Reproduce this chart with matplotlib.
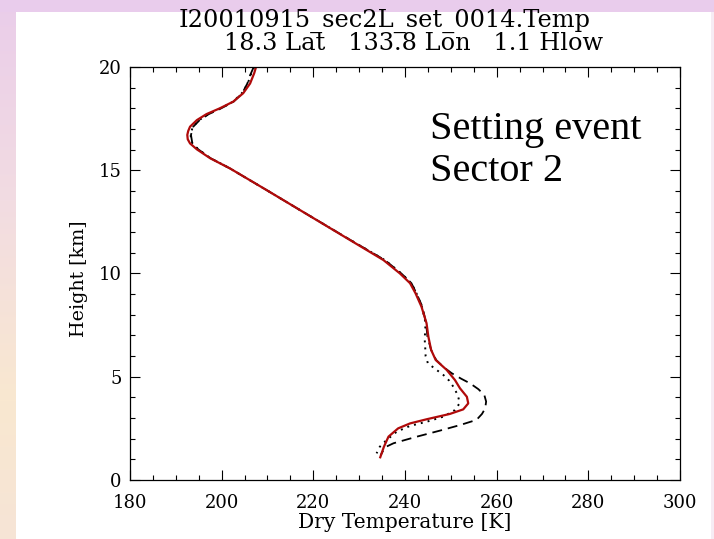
import numpy as np
import matplotlib
matplotlib.use("Agg")
import matplotlib.pyplot as plt

# Retrieved dry temperature profile (solid red)
ret_h = [20.0, 19.7, 19.2, 18.73, 18.32, 18.0, 17.72, 17.43, 17.11, 16.9, 16.71, 16.5,
         16.3, 16.01, 15.58, 15.09, 14.04, 13.07, 11.62, 10.65, 10.0, 9.53, 9.04, 8.39,
         7.59, 6.94, 6.3, 5.81, 5.33, 4.84, 4.44, 4.03, 3.71, 3.42, 3.2, 2.94, 2.74,
         2.5, 2.1, 1.61, 1.1]
ret_t = [207.5, 207.1, 206.2, 204.7, 202.5, 199.6, 196.7, 194.6, 193.1, 192.7, 192.5, 192.6,
         193.1, 194.6, 197.5, 201.8, 209.8, 217.1, 228.0, 235.3, 238.9, 241.1, 242.3, 243.6,
         244.7, 245.1, 245.7, 246.7, 249.1, 250.9, 252.0, 253.5, 253.8, 252.7, 249.8, 244.7, 241.1,
         238.5, 236.4, 235.4, 234.6]

# Reference profile 1 (dashed black)
ref1_h = [20.0, 19.6, 19.2, 18.73, 18.32, 18.0, 17.72, 17.43, 17.11, 16.71, 16.3, 16.01,
          15.58, 15.09, 14.04, 13.07, 11.62, 10.65, 10.0, 9.53, 9.04, 8.39, 7.59, 6.94,
          6.3, 5.81, 5.45, 5.17, 4.9, 4.68, 4.4, 4.12, 3.8, 3.47, 3.2, 2.91, 2.66,
          2.39, 2.1, 1.78, 1.58, 1.2]
ref1_t = [207.0, 206.2, 205.6, 204.5, 202.6, 199.9, 197.2, 195.2, 193.8, 193.3, 193.6, 194.9,
          197.6, 201.8, 209.8, 217.1, 228.1, 235.6, 239.2, 241.4, 242.5, 243.8, 244.6, 244.9,
          245.7, 246.8, 248.5, 250.2, 252.3, 254.2, 256.0, 257.3, 257.7, 257.5, 256.8, 255.6, 252.0,
          247.6, 242.6, 237.5, 235.6, 234.7]

# Reference profile 2 (dotted black)
ref2_h = [20.0, 19.6, 19.2, 18.73, 18.32, 18.0, 17.72, 17.43, 17.11, 16.71, 16.3, 16.01,
          15.58, 15.09, 14.04, 13.07, 11.62, 10.65, 10.0, 9.53, 9.04, 8.39, 7.59, 7.26,
          6.8, 6.46, 6.0, 5.65, 5.33, 5.08, 4.82, 4.5, 4.2, 3.95, 3.71, 3.39, 3.07,
          2.82, 2.62, 2.34, 1.94, 1.61, 1.29]
ref2_t = [207.1, 206.3, 205.7, 204.4, 202.5, 199.8, 197.1, 195.1, 193.7, 193.2, 193.6, 194.9,
          197.6, 201.8, 209.8, 217.1, 228.1, 235.6, 239.2, 241.4, 242.5, 243.7, 244.5, 244.4,
          244.3, 244.4, 244.5, 245.0, 246.9, 248.4, 249.6, 250.6, 251.3, 251.7, 251.9, 250.9, 248.4,
          244.7, 241.1, 238.2, 236.0, 234.5, 233.8]

x_ticks = [180, 200, 220, 240, 260, 280, 300]
y_ticks = [0, 5, 10, 15, 20]

title_line1 = "I20010915_sec2L_set_0014.Temp"
title_line2 = "18.3 Lat   133.8 Lon   1.1 Hlow"
note_line1 = "Setting event"
note_line2 = "Sector 2"

W, H = 714, 539
fig = plt.figure(figsize=(W / 100, H / 100), dpi=100)

# Slide-style frame: lavender top band, pink-to-peach left band
bg = np.ones((H, W, 3))
lav = np.array([233, 204, 236]) / 255
top_c = np.array([234, 205, 234]) / 255
mid_c = np.array([242, 220, 226]) / 255
low_c = np.array([249, 232, 208]) / 255
bot_c = np.array([246, 228, 214]) / 255
rows = np.arange(H)
stops = [0, 200, 400, H - 1]
cols = [top_c, mid_c, low_c, bot_c]
grad = np.stack([np.interp(rows, stops, [c[i] for c in cols]) for i in range(3)], axis=1)
bg[:, :16, :] = grad[:, None, :]
bg[:12, :, :] = lav
bg[12:, 711:, :] = np.array([246, 236, 244]) / 255
fig.figimage(bg, xo=0, yo=0, origin="upper", zorder=-10)

ax = fig.add_axes([130 / W, 1 - 480 / H, 550 / W, 413 / H])
ax.set_zorder(5)
ax.set_facecolor("white")

ax.plot(ref1_t, ref1_h, color="black", lw=1.3, linestyle=(0, (5.5, 3.3)))
ax.plot(ref2_t, ref2_h, color="black", lw=1.4, linestyle=(0, (1, 2.6)))
ax.plot(ret_t, ret_h, color="#b00a0a", lw=1.6, solid_joinstyle="round")

ax.set_xlim(180, 300)
ax.set_ylim(0, 20)
ax.set_xticks(x_ticks)
ax.set_yticks(y_ticks)
ax.set_xticks(np.arange(180, 301, 5), minor=True)
ax.set_yticks(np.arange(0, 21, 1), minor=True)
ax.tick_params(which="both", direction="in", top=True, right=True, width=0.8, color="black")
ax.tick_params(which="major", length=7.2)
ax.tick_params(which="minor", length=3.6)
ax.tick_params(axis="x", which="major", pad=10, labelsize=13)
ax.tick_params(axis="y", which="major", pad=6, labelsize=13)
for lab in ax.get_xticklabels() + ax.get_yticklabels():
    lab.set_family("DejaVu Serif")
for sp in ax.spines.values():
    sp.set_linewidth(0.9)

ax.set_xlabel("Dry Temperature [K]", family="DejaVu Serif", fontsize=14.5)
ax.set_ylabel("Height [km]", family="DejaVu Serif", fontsize=13.7)
ax.xaxis.set_label_coords(0.499, -0.104)
ax.xaxis.label.set_verticalalignment("center")
ax.yaxis.set_label_coords(-0.0927, 0.488)
ax.yaxis.label.set_verticalalignment("center")

fig.text(385 / W, 1 - 21 / H, title_line1, ha="center", va="center",
         family="DejaVu Serif", fontsize=17.3, zorder=6)
fig.text(414 / W, 1 - 43 / H, title_line2, ha="center", va="center",
         family="DejaVu Serif", fontsize=17.3, zorder=6)

ax.text((430 - 130) / 550, (480 - 139) / 413, note_line1, transform=ax.transAxes,
        ha="left", va="baseline", family="Liberation Serif", fontsize=29)
ax.text((430 - 130) / 550, (480 - 181) / 413, note_line2, transform=ax.transAxes,
        ha="left", va="baseline", family="Liberation Serif", fontsize=29)

fig.savefig("out.png", dpi=100)
